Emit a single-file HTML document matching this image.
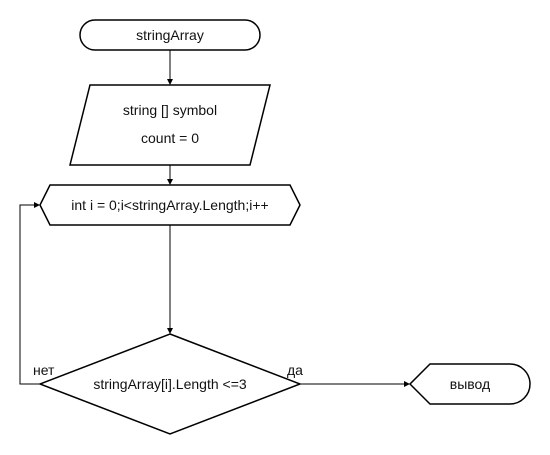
<!DOCTYPE html>
<html><head><meta charset="utf-8"><style>body{margin:0;background:#fff}svg{display:block}text{font-family:"Liberation Sans",Arial,sans-serif;font-size:14px;fill:#111}</style></head><body>
<svg width="550" height="455" viewBox="0 0 550 455" xmlns="http://www.w3.org/2000/svg">
<defs><marker id="a" markerWidth="6" markerHeight="6" refX="5" refY="3" orient="auto" markerUnits="userSpaceOnUse"><path d="M0,0 L6,3 L0,6 Z" fill="#000"/></marker></defs>
<g fill="none" stroke="#000" stroke-width="1.5">
<rect x="80" y="20" width="180" height="30" rx="15"/>
<path d="M90,85 L270,85 L250,165 L70,165 Z"/>
<path d="M50,185 L290,185 L300,205 L290,225 L50,225 L40,205 Z"/>
<path d="M170,334 L300,384 L170,434 L40,384 Z"/>
<path d="M430,364 L510,364 A20,20 0 0 1 510,404 L430,404 L410,384 Z"/>
</g>
<g fill="none" stroke="#000" stroke-width="1">
<line x1="170" y1="50" x2="170" y2="84" marker-end="url(#a)"/>
<line x1="170" y1="165" x2="170" y2="184" marker-end="url(#a)"/>
<line x1="170" y1="225" x2="170" y2="333" marker-end="url(#a)"/>
<line x1="300" y1="384" x2="409" y2="384" marker-end="url(#a)"/>
<polyline points="40,384 20,384 20,205 39,205" marker-end="url(#a)"/>
</g>
<text x="170" y="40" text-anchor="middle">stringArray</text>
<text x="170" y="115" text-anchor="middle">string [] symbol</text>
<text x="170" y="143" text-anchor="middle">count = 0</text>
<text x="170" y="210" text-anchor="middle">int i = 0;i&lt;stringArray.Length;i++</text>
<text x="170" y="389" text-anchor="middle">stringArray[i].Length &lt;=3</text>
<text x="470" y="389" text-anchor="middle">вывод</text>
<text x="33" y="375">нет</text>
<text x="287" y="375">да</text>
</svg>
</body></html>
